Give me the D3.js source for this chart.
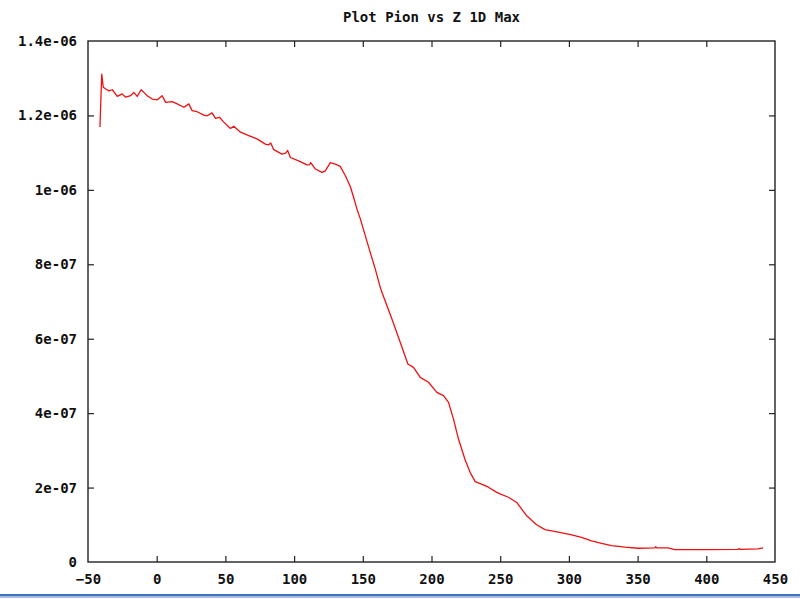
<!DOCTYPE html>
<html>
<head>
<meta charset="utf-8">
<script src="https://cdn.jsdelivr.net/npm/d3@7"></script>
<style>
  html, body { margin: 0; padding: 0; background: #fff; }
  svg { display: block; }
  text { font-family: "DejaVu Sans Mono", "Liberation Mono", monospace; font-weight: bold; font-size: 14px; fill: #111; }
</style>
</head>
<body>
<div id="chart"></div>
<script>
// Z position of each sample
const zValues = [
  -41.3, -40.0, -38.9, -37.1, -34.7, -32.3, -28.7, -25.1, -22.6, -19.0,
  -16.6, -14.2, -11.3, -9.3, -6.9, -3.3, 0.4, 4.0, 6.5, 11.3,
  14.9, 19.8, 23.4, 25.8, 29.4, 34.3, 36.7, 40.3, 42.8, 45.7,
  48.8, 53.7, 56.1, 61.0, 67.0, 73.0, 79.1, 81.5, 83.0, 85.2,
  91.2, 93.9, 95.3, 97.3, 103.3, 109.4, 111.3, 112.1, 115.5, 120.3,
  122.7, 126.4, 130.0, 133.6, 137.3, 138.4, 140.9, 143.3, 145.7, 148.2,
  151.8, 155.4, 159.1, 162.7, 163.9, 171.2, 177.3, 182.8, 186.9, 191.8,
  197.8, 203.9, 208.7, 212.4, 216.0, 219.6, 224.5, 228.1, 231.8, 239.0,
  241.4, 247.5, 249.9, 256.0, 262.0, 269.3, 276.5, 282.6, 292.3, 302.0,
  309.2, 316.5, 323.8, 331.0, 340.8, 350.4, 362.6, 363.2, 363.8, 372.2,
  377.1, 398.9, 423.1, 424.0, 424.8, 437.7, 441.3
];

// Pion 1D maximum at each Z
const pionMax = [
  1.169e-6, 1.311e-6, 1.276e-6, 1.271e-6, 1.266e-6, 1.269e-6, 1.251e-6, 1.258e-6, 1.249e-6, 1.253e-6,
  1.262e-6, 1.251e-6, 1.269e-6, 1.262e-6, 1.253e-6, 1.244e-6, 1.242e-6, 1.253e-6, 1.235e-6, 1.237e-6,
  1.231e-6, 1.222e-6, 1.231e-6, 1.213e-6, 1.210e-6, 1.201e-6, 1.199e-6, 1.207e-6, 1.192e-6, 1.195e-6,
  1.182e-6, 1.165e-6, 1.171e-6, 1.155e-6, 1.146e-6, 1.137e-6, 1.123e-6, 1.121e-6, 1.126e-6, 1.108e-6,
  1.096e-6, 1.099e-6, 1.106e-6, 1.087e-6, 1.078e-6, 1.067e-6, 1.068e-6, 1.073e-6, 1.056e-6, 1.047e-6,
  1.051e-6, 1.073e-6, 1.069e-6, 1.063e-6, 1.038e-6, 1.029e-6, 1.009e-6, 0.980e-6, 0.949e-6, 0.922e-6,
  0.877e-6, 0.832e-6, 0.787e-6, 0.738e-6, 0.725e-6, 0.653e-6, 0.590e-6, 0.532e-6, 0.523e-6, 0.496e-6,
  0.483e-6, 0.456e-6, 0.447e-6, 0.429e-6, 0.384e-6, 0.331e-6, 0.274e-6, 0.241e-6, 0.216e-6, 0.205e-6,
  0.201e-6, 0.187e-6, 0.183e-6, 0.174e-6, 0.160e-6, 0.124e-6, 0.100e-6, 0.087e-6, 0.080e-6, 0.073e-6,
  0.066e-6, 0.057e-6, 0.050e-6, 0.044e-6, 0.040e-6, 0.037e-6, 0.038e-6, 0.041e-6, 0.038e-6, 0.038e-6,
  0.033e-6, 0.033e-6, 0.034e-6, 0.036e-6, 0.034e-6, 0.035e-6, 0.038e-6
];

const xTickValues = [-50, 0, 50, 100, 150, 200, 250, 300, 350, 400, 450];
const yTickValues = [0, 2e-7, 4e-7, 6e-7, 8e-7, 1e-6, 1.2e-6, 1.4e-6];
const yTickLabels = ["0", "2e-07", "4e-07", "6e-07", "8e-07", "1e-06", "1.2e-06", "1.4e-06"];
const chartTitle = "Plot Pion vs Z 1D Max";

const W = 800, H = 599;
const margin = { left: 88, right: 25, top: 41, bottom: 37 };

const svg = d3.select("#chart").append("svg")
  .attr("width", W).attr("height", H);

const x = d3.scaleLinear().domain([-50, 450]).range([margin.left, W - margin.right]);
const y = d3.scaleLinear().domain([0, 1.4e-6]).range([H - margin.bottom, margin.top]);

const tickLen = 6;
const axisColor = "#222";

// Bottom axis with labels, ticks pointing into the plot
const xAxis = svg.append("g")
  .attr("transform", `translate(0,${y(0)})`)
  .call(d3.axisBottom(x).tickValues(xTickValues).tickSizeInner(-tickLen).tickSizeOuter(0).tickPadding(12).tickFormat(d3.format("d")));
// Top mirror ticks
const xAxisTop = svg.append("g")
  .attr("transform", `translate(0,${y(1.4e-6)})`)
  .call(d3.axisTop(x).tickValues(xTickValues).tickSizeInner(-tickLen).tickSizeOuter(0).tickFormat(""));
// Left axis with labels
const yAxis = svg.append("g")
  .attr("transform", `translate(${x(-50)},0)`)
  .call(d3.axisLeft(y).tickValues(yTickValues).tickSizeInner(-tickLen).tickSizeOuter(0).tickPadding(11)
    .tickFormat((d, i) => yTickLabels[i]));
// Right mirror ticks
const yAxisRight = svg.append("g")
  .attr("transform", `translate(${x(450)},0)`)
  .call(d3.axisRight(y).tickValues(yTickValues).tickSizeInner(-tickLen).tickSizeOuter(0).tickFormat(""));

[xAxis, xAxisTop, yAxis, yAxisRight].forEach(g => {
  g.select(".domain").remove();
  g.selectAll(".tick line").attr("stroke", axisColor).attr("stroke-width", 1.2);
  g.selectAll(".tick text").attr("font-family", null).attr("font-size", null).style("fill", "#111");
});
// Drop the duplicated end ticks that sit on the frame corners
xAxis.selectAll(".tick").filter(d => d === -50 || d === 450).select("line").remove();
xAxisTop.selectAll(".tick").filter(d => d === -50 || d === 450).select("line").remove();
yAxis.selectAll(".tick").filter(d => d === 0 || d === 1.4e-6).select("line").remove();
yAxisRight.selectAll(".tick").filter(d => d === 0 || d === 1.4e-6).select("line").remove();

// Plot frame
svg.append("rect")
  .attr("x", x(-50)).attr("y", y(1.4e-6))
  .attr("width", x(450) - x(-50)).attr("height", y(0) - y(1.4e-6))
  .attr("fill", "none").attr("stroke", axisColor).attr("stroke-width", 1.4);

// Data line
const line = d3.line().x((d, i) => x(zValues[i])).y(d => y(d));
svg.append("path")
  .datum(pionMax)
  .attr("d", line)
  .attr("fill", "none")
  .attr("stroke", "#ee1111")
  .attr("stroke-width", 1.3)
  .attr("stroke-linejoin", "round");

// Title
svg.append("text")
  .attr("x", (x(-50) + x(450)) / 2)
  .attr("y", 22)
  .attr("text-anchor", "middle")
  .text(chartTitle);

// Blue rule along the bottom edge
svg.append("rect").attr("x", 0).attr("y", 594).attr("width", W).attr("height", 2.5).attr("fill", "#3f72bf");
svg.append("rect").attr("x", 0).attr("y", 596.5).attr("width", W).attr("height", 1.5).attr("fill", "#a8bfe3");
</script>
</body>
</html>
